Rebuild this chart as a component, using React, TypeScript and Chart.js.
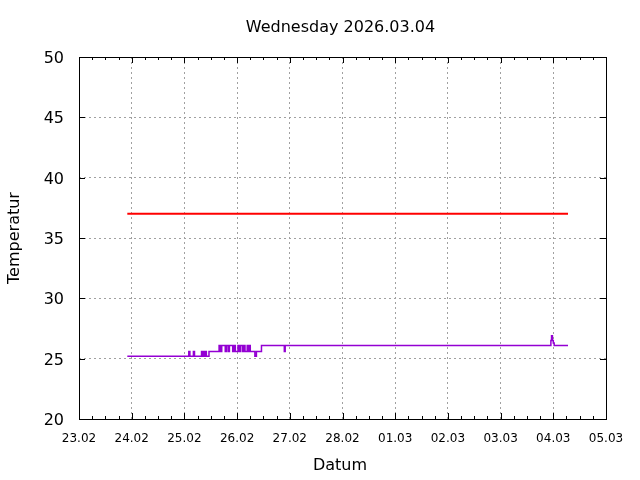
import React, { useEffect, useRef } from 'react';
import { Chart, registerables } from 'chart.js';

Chart.register(...registerables);

const TITLE = 'Wednesday 2026.03.04';
const X_LABEL = 'Datum';
const Y_LABEL = 'Temperatur';
// hours since 23.02 00:00
const X_TICK_LABELS = ['23.02', '24.02', '25.02', '26.02', '27.02', '28.02', '01.03', '02.03', '03.03', '04.03', '05.03'];
const Y_MIN = 20;
const Y_MAX = 50;
const Y_STEP = 5;

const REF_HOURS = [22.0, 222.7];
const REF_VALUES = [37.0, 37.0];

const TEMP_HOURS = [
  22.0, 50.0, 50.5, 52.1, 52.6, 55.8, 56.3, 56.7, 57.2, 57.6, 58.0, 59.2,
  63.8, 64.4, 65.0, 66.6, 67.2, 68.0, 68.5, 70.0, 70.6, 71.2, 72.4, 73.0,
  73.6, 74.5, 75.0, 75.6, 76.6, 77.0, 77.6, 78.0, 80.1, 80.8, 83.1,
  93.5, 93.9, 214.9, 215.2, 215.6, 216.0, 216.4, 222.7,
];
const TEMP_VALUES = [
  25.2, 25.6, 25.2, 25.6, 25.2, 25.6, 25.2, 25.6, 25.2, 25.6, 25.2, 25.6,
  26.1, 25.6, 26.1, 25.6, 26.1, 25.6, 26.1, 25.6, 26.1, 25.6, 26.1, 25.6,
  26.1, 25.6, 26.1, 25.6, 26.1, 25.6, 26.1, 25.6, 25.2, 25.6, 26.1,
  25.6, 26.1, 26.5, 26.9, 26.5, 26.3, 26.1, 26.1,
];

const FONT = 'DejaVu Sans';
const GRID_COLOR = '#a0a0a0';

const framePlugin = {
  id: 'gnuFrame',
  afterDraw(chart: any) {
    const { ctx, chartArea } = chart;
    const { left, right, top, bottom } = chartArea;
    const xs = chart.scales.x;
    const ys = chart.scales.y;
    ctx.save();
    ctx.strokeStyle = '#000';
    ctx.lineWidth = 1;
    ctx.setLineDash([]);
    // ticks
    ctx.beginPath();
    for (let v = 0; v <= 240; v += 6) {
      const px = Math.round(xs.getPixelForValue(v)) + 0.5;
      const len = v % 24 === 0 ? 6 : 3;
      ctx.moveTo(px, bottom);
      ctx.lineTo(px, bottom - len);
      ctx.moveTo(px, top);
      ctx.lineTo(px, top + len);
    }
    for (let v = Y_MIN; v <= Y_MAX; v += Y_STEP) {
      const py = Math.round(ys.getPixelForValue(v)) + 0.5;
      ctx.moveTo(left, py);
      ctx.lineTo(left + 6, py);
      ctx.moveTo(right, py);
      ctx.lineTo(right - 6, py);
    }
    ctx.stroke();
    ctx.strokeRect(Math.round(left) + 0.5, Math.round(top) + 0.5, Math.round(right - left), Math.round(bottom - top));
    // texts
    ctx.fillStyle = '#000';
    ctx.font = `16px "${FONT}"`;
    ctx.textBaseline = 'middle';
    ctx.textAlign = 'right';
    for (let v = Y_MIN; v <= Y_MAX; v += Y_STEP) {
      ctx.fillText(String(v), left - 15, ys.getPixelForValue(v) + 2);
    }
    ctx.textAlign = 'center';
    ctx.fillText(TITLE, (left + right) / 2 - 2, 28);
    ctx.fillText(X_LABEL, 340, 466);
    ctx.translate(15, 238);
    ctx.rotate(-Math.PI / 2);
    ctx.fillText(Y_LABEL, 0, 0);
    ctx.restore();
  },
};

export default function App() {
  const canvasRef = useRef<HTMLCanvasElement | null>(null);

  useEffect(() => {
    if (!canvasRef.current) return;
    const chart = new Chart(canvasRef.current, {
      type: 'line',
      data: {
        datasets: [
          {
            label: 'Temperatur',
            data: TEMP_HOURS.map((h, i) => ({ x: h, y: TEMP_VALUES[i] })),
            borderColor: '#9400d3',
            borderWidth: 1.5,
            pointRadius: 0,
            stepped: 'before',
            fill: false,
          },
          {
            label: 'Soll',
            data: REF_HOURS.map((h, i) => ({ x: h, y: REF_VALUES[i] })),
            borderColor: '#ff0000',
            borderWidth: 2,
            pointRadius: 0,
            fill: false,
          },
        ],
      },
      options: {
        animation: false,
        responsive: false,
        devicePixelRatio: 1,
        layout: { padding: { top: 57, right: 34, left: 0, bottom: 0 } },
        plugins: {
          legend: { display: false },
          title: { display: false },
          tooltip: { enabled: false },
        },
        scales: {
          x: {
            type: 'linear',
            min: 0,
            max: 240,
            afterFit: (s: any) => { s.height = 61; },
            ticks: {
              stepSize: 6,
              autoSkip: false,
              maxRotation: 0,
              padding: 13,
              color: '#000',
              font: { family: FONT, size: 12 },
              callback: (v: any) => (Number(v) % 24 === 0 ? X_TICK_LABELS[Number(v) / 24] : ''),
            },
            grid: {
              drawTicks: false,
              lineWidth: 1,
              color: (c: any) =>
                c.tick && c.tick.value % 24 === 0 && c.tick.value > 0 && c.tick.value < 240 ? GRID_COLOR : 'rgba(0,0,0,0)',
            },
            border: { display: false, dash: [2, 3] },
          },
          y: {
            min: Y_MIN,
            max: Y_MAX,
            afterFit: (s: any) => { s.width = 79; },
            ticks: {
              stepSize: Y_STEP,
              display: false,
            },
            grid: {
              drawTicks: false,
              lineWidth: 1,
              color: (c: any) =>
                c.tick && c.tick.value > Y_MIN && c.tick.value < Y_MAX ? GRID_COLOR : 'rgba(0,0,0,0)',
            },
            border: { display: false, dash: [2, 3] },
          },
        },
      },
      plugins: [framePlugin],
    });
    return () => chart.destroy();
  }, []);

  return (
    <div style={{ position: 'absolute', left: 0, top: 0, width: 640, height: 480, background: '#fff' }}>
      <canvas ref={canvasRef} width={640} height={480} />
    </div>
  );
}
